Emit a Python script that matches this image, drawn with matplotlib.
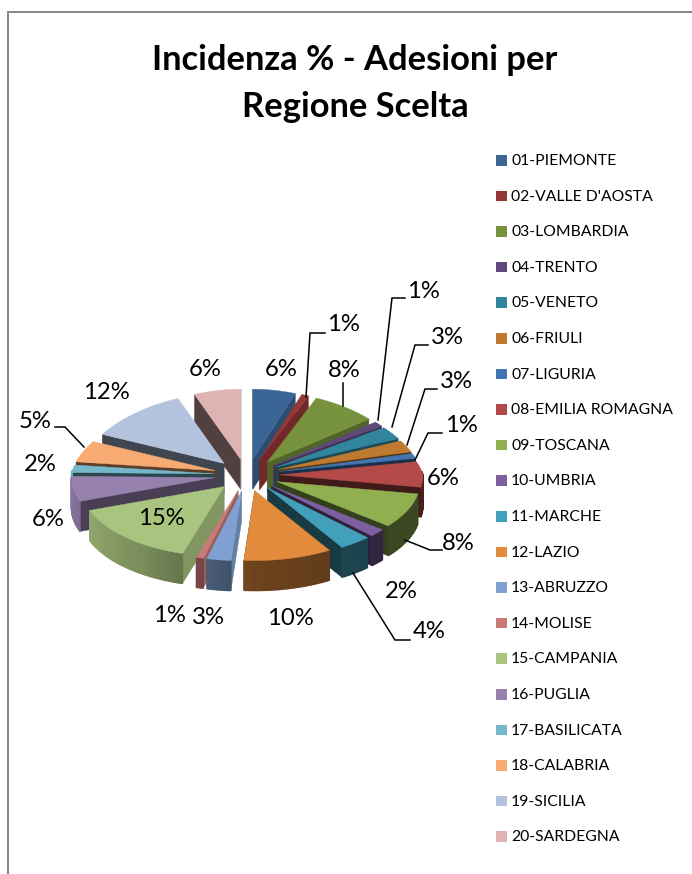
import numpy as np
import matplotlib
matplotlib.use("Agg")
import matplotlib.pyplot as plt
from matplotlib.patches import Polygon, Rectangle

regions = ["01-PIEMONTE", "02-VALLE D'AOSTA", "03-LOMBARDIA", "04-TRENTO", "05-VENETO",
           "06-FRIULI", "07-LIGURIA", "08-EMILIA ROMAGNA", "09-TOSCANA", "10-UMBRIA",
           "11-MARCHE", "12-LAZIO", "13-ABRUZZO", "14-MOLISE", "15-CAMPANIA",
           "16-PUGLIA", "17-BASILICATA", "18-CALABRIA", "19-SICILIA", "20-SARDEGNA"]
shares = [5.6, 0.9, 7.8, 1.1, 2.8, 2.6, 1.1, 5.8, 8.0, 1.8,
          3.6, 9.9, 2.7, 0.8, 14.7, 5.8, 1.7, 4.8, 12.0, 6.1]
labels = ["6%", "1%", "8%", "1%", "3%", "3%", "1%", "6%", "8%", "2%",
          "4%", "10%", "3%", "1%", "15%", "6%", "2%", "5%", "12%", "6%"]
colors = ["#3A6595", "#953735", "#76923C", "#5F497A", "#31859C", "#BF7A30", "#4176B0",
          "#B34A47", "#90B050", "#7D5F9F", "#43A0BB", "#E38B3C", "#7FA0D0", "#C87A78",
          "#A9C47F", "#9680AE", "#75B8CC", "#F7AB72", "#B3C3DE", "#DDB3B3"]
label_pos = [(281, 368), (343, 323), (344, 369), (423, 290), (447, 336), (456, 380), (461, 424),
             (443, 477), (458, 542), (401, 590), (429, 630), (290, 617), (208, 616), (169, 614),
             (161, 517), (48, 518), (40, 463), (35, 420), (106, 391), (205, 368)]
leaders = [[(306, 397), (310, 333), (325, 333)],
           [(343, 406), (343, 383)],
           [(378, 420), (392, 298), (405, 298)],
           [(392, 427), (415, 345), (428, 345)],
           [(407, 445), (425, 389), (437, 389)],
           [(415, 460), (428, 433), (442, 433)],
           [(405, 540), (430, 550), (442, 550)],
           [(353, 573), (395, 640), (410, 640)],
           [(84, 447), (65, 427), (55, 427)]]

CX, CY = 247, 475
RX, RY = 143, 70
EXPX, EXPY = 33, 16
DEPTH = 30

fig = plt.figure(figsize=(6.92, 8.74), dpi=100)
ax = fig.add_axes([0, 0, 1, 1])
ax.set_xlim(0, 692)
ax.set_ylim(874, 0)
ax.axis("off")

FAMILY = "Lato"


def shade(col, f):
    return tuple(np.array(matplotlib.colors.to_rgb(col)) * f)


def wall_factor(theta):
    return np.interp(theta, [90, 130, 180, 215, 250, 275], [.42, .40, .48, .72, .85, .92])


def cut_factor(normal):
    return np.interp(normal, [90, 115, 145, 165, 190, 360], [.80, .75, .68, .42, .36, .36])


def rim(theta, tx, ty):
    t = np.radians(theta)
    rx = RX * (1 - .15 * max(np.cos(t), 0))
    return tx + rx * np.sin(t), ty - RY * np.cos(t)


fractions = np.array(shares) / sum(shares)
edges = np.concatenate([[0], np.cumsum(fractions)]) * 360
mids = (edges[:-1] + edges[1:]) / 2
order = np.argsort(-np.cos(np.radians(mids)))
z = 3
for i in order:
    a0, a1, mid = edges[i], edges[i + 1], mids[i]
    m = np.radians(mid)
    tx = CX + EXPX * np.sin(m)
    ty = CY - EXPY * np.cos(m)
    ths = np.linspace(a0, a1, max(3, int(a1 - a0) + 2))
    pts = [rim(t, tx, ty) for t in ths]
    col = colors[i]
    # radial cut faces: only those turned towards the viewer
    for p, n in ((pts[0], (a0 - 90) % 360), (pts[-1], (a1 + 90) % 360)):
        if 85 < n < 275:
            fc = shade(col, cut_factor(n))
            face = [(tx, ty), p, (p[0], p[1] + DEPTH), (tx, ty + DEPTH)]
            ax.add_patch(Polygon(face, closed=True, fc=fc, ec=fc, lw=.3, zorder=z))
            z += 1
    # outer wall
    for j in range(len(pts) - 1):
        thm = (ths[j] + ths[j + 1]) / 2
        if np.cos(np.radians(thm)) < 0.05:
            fc = shade(col, wall_factor(thm))
            p, q = pts[j], pts[j + 1]
            ax.add_patch(Polygon([p, q, (q[0], q[1] + DEPTH), (p[0], p[1] + DEPTH)], closed=True,
                                 fc=fc, ec=fc, lw=1.0, zorder=z))
            z += 1
    ax.add_patch(Polygon([(tx, ty)] + pts, closed=True, fc=col, ec=col, lw=.3, zorder=z))
    z += 1

for seg in leaders:
    xs, ys = zip(*seg)
    ax.plot(xs, ys, color="black", lw=1.1, zorder=z, solid_joinstyle="miter")
z += 1

for (x, y), s in zip(label_pos, labels):
    ax.text(x, y + 1.5, s, ha="center", va="center", fontsize=17.2, family=FAMILY, color="black", zorder=z)

ax.text(355, 60, "Incidenza % - Adesioni per", ha="center", va="center", fontsize=24.8,
        family=FAMILY, weight="bold", color="black", zorder=z)
ax.text(355, 107, "Regione Scelta", ha="center", va="center", fontsize=24.8,
        family=FAMILY, weight="bold", color="black", zorder=z)

for k, (name, col) in enumerate(zip(regions, colors)):
    y = 160 + k * 35.6
    ax.add_patch(Rectangle((496, y - 5), 10.5, 10.5, fc=col, ec="none", zorder=z))
    ax.text(511, y + 1, name, ha="left", va="center", fontsize=11.35, family=FAMILY, color="black", zorder=z)

ax.plot([8, 8, 692], [874, 12, 12], color="#868686", lw=1.4, zorder=z, solid_joinstyle="miter")

fig.savefig("out.png", dpi=100, facecolor="white")
